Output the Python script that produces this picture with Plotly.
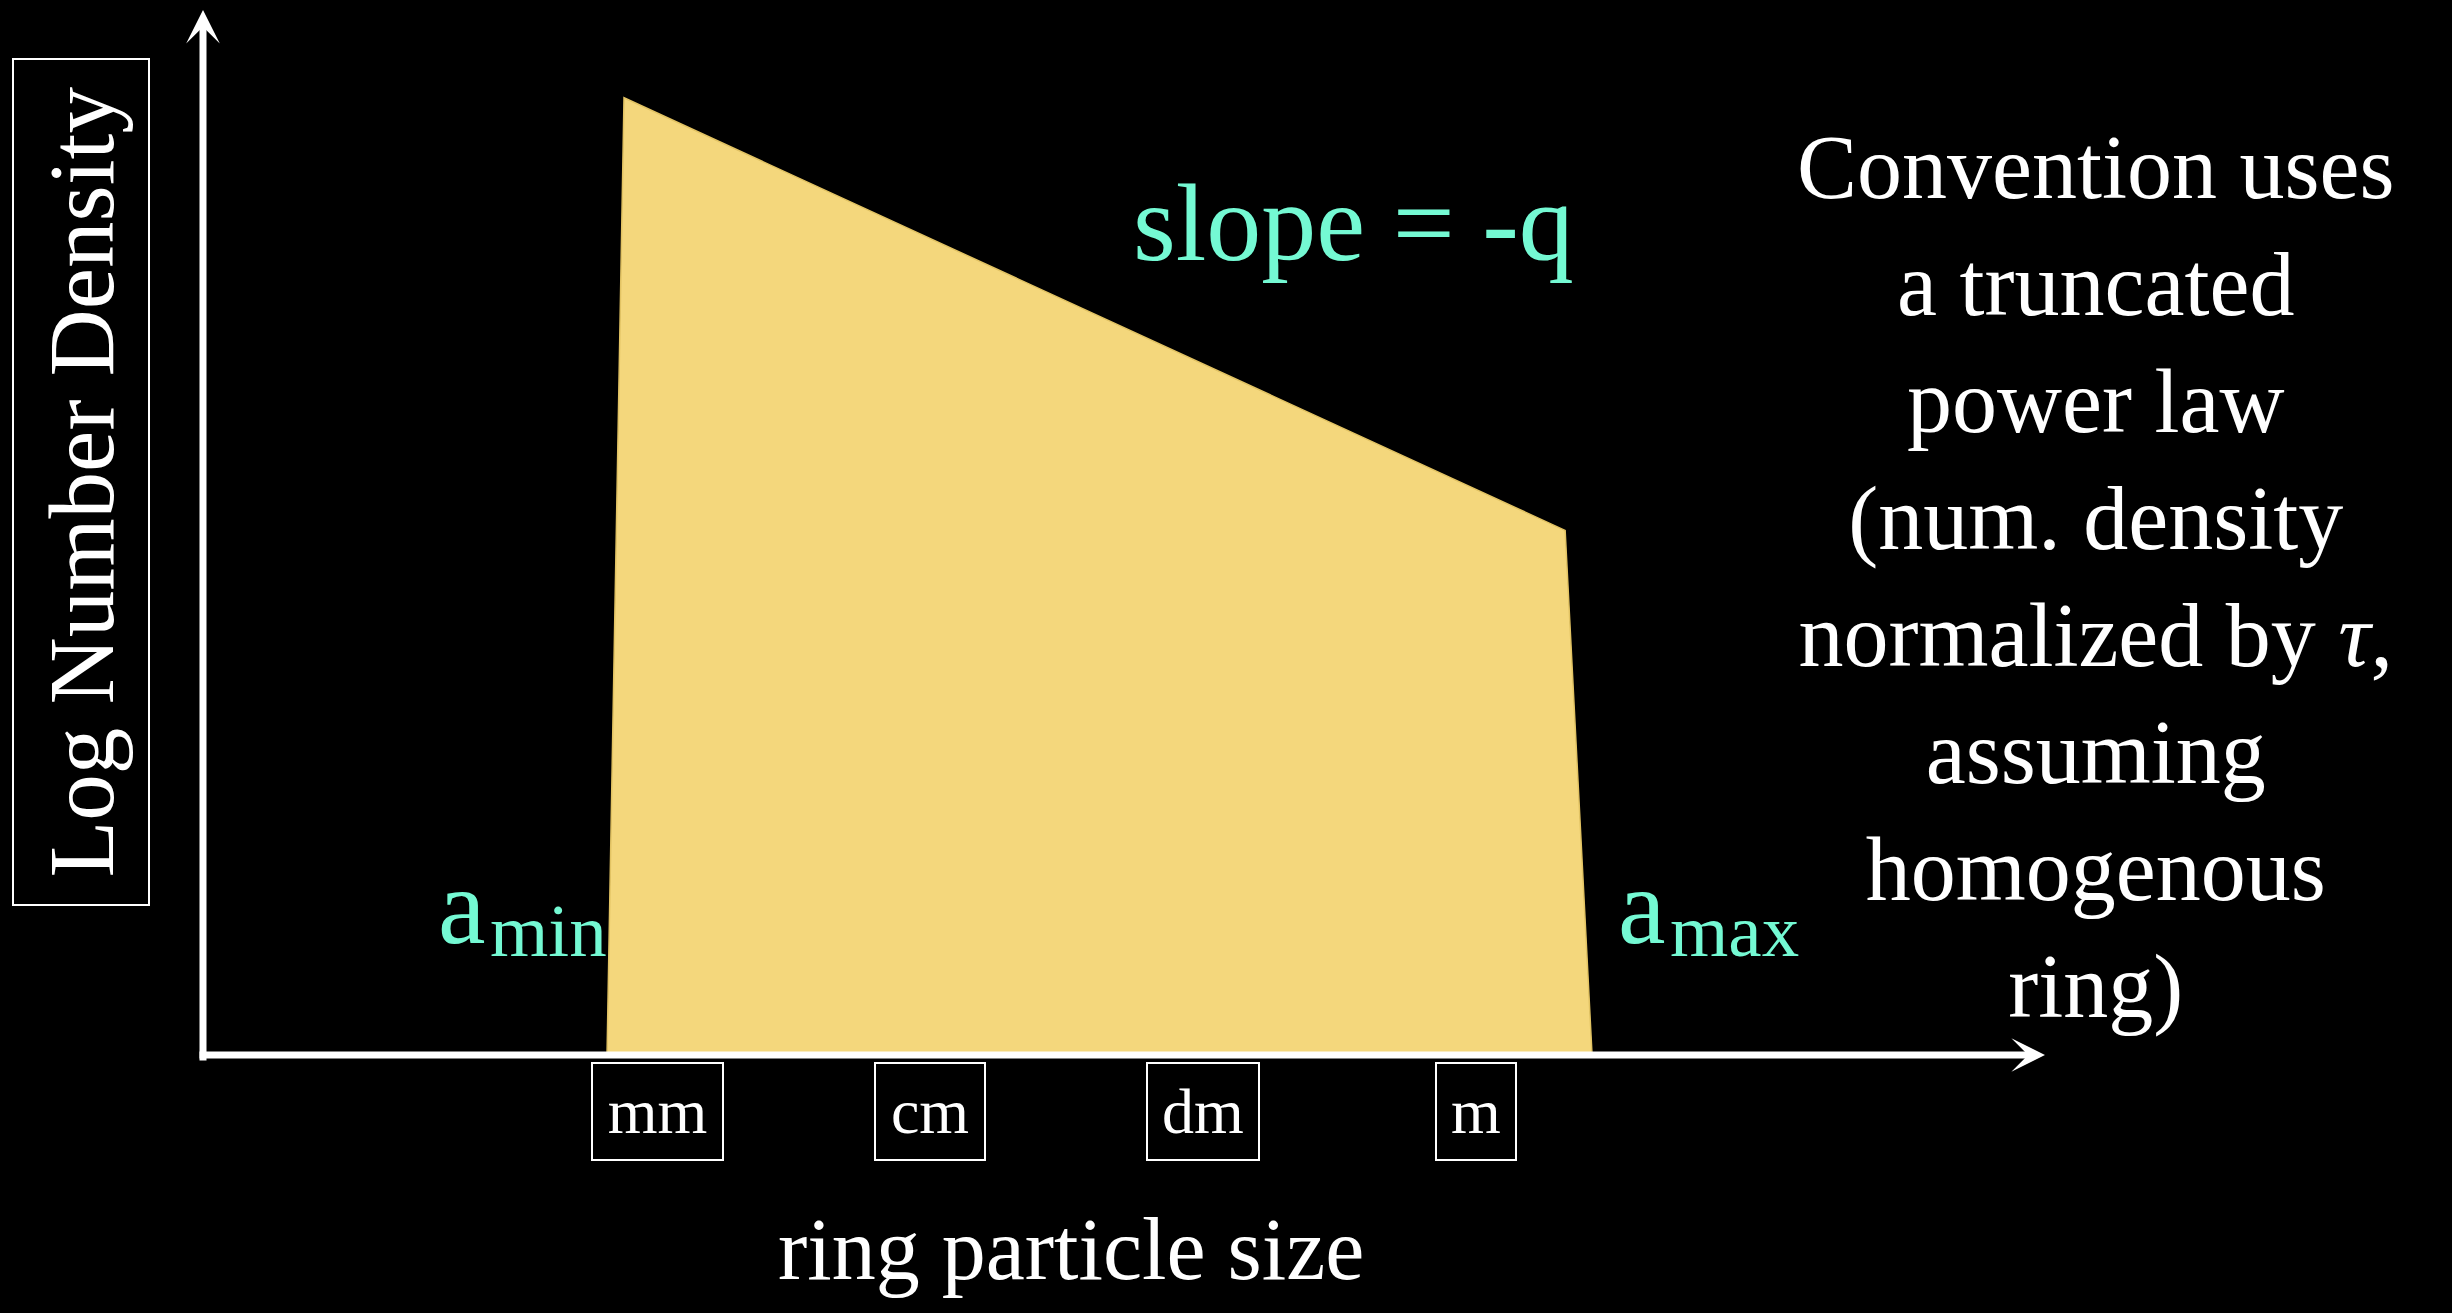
import math
import plotly.graph_objects as go

# ---------------- data ----------------
size_labels = ["mm", "cm", "dm", "m"]
size_values_m = [1e-3, 1e-2, 1e-1, 1.0]

# truncated power-law outline (particle size in metres, log number density in arbitrary units)
poly_size_m = [6.56e-4, 7.57e-4, 2.12, 2.66, 6.56e-4]
poly_log_density = [0.0, 9.16, 5.02, 0.0, 0.0]

right_text_lines = [
    "Convention uses",
    "a truncated",
    "power law",
    "(num. density",
    "normalized by <i>τ</i>,",
    "assuming",
    "homogenous",
    "ring)",
]

# ---------------- styling ----------------
W, H = 2452, 1313
ML, MR, MT, MB = 203, 407, 10, 258
PW = W - ML - MR
PH = H - MT - MB
SERIF = "Liberation Serif, Times New Roman, serif"
AQUA = "#74F9D3"
YELLOW = "#F4D77C"
WHITE = "#FFFFFF"


def px_to_paper_x(p):
    return (p - ML) / PW


def px_to_paper_y(p):
    return (H - MB - p) / PH


fig = go.Figure()

fig.add_trace(
    go.Scatter(
        x=poly_size_m,
        y=poly_log_density,
        mode="lines",
        fill="toself",
        fillcolor=YELLOW,
        line=dict(color="#E2C363", width=1.5),
        hoverinfo="skip",
        showlegend=False,
    )
)

annotations = []

# axis arrows
annotations.append(dict(
    x=0, y=1, xref="paper", yref="paper", ax=0, ay=1052,
    text="", showarrow=True, arrowhead=3, arrowsize=0.8, arrowwidth=7,
    arrowcolor=WHITE, standoff=0,
))
annotations.append(dict(
    x=1, y=0, xref="paper", yref="paper", ax=-1847, ay=0,
    text="", showarrow=True, arrowhead=3, arrowsize=0.8, arrowwidth=7,
    arrowcolor=WHITE, standoff=0,
))

# boxed tick labels (annotation x on a log axis is given as log10)
box_widths = {"mm": 129, "cm": 108, "dm": 110, "m": 78}
for lab, val in zip(size_labels, size_values_m):
    annotations.append(dict(
        x=math.log10(val), xref="x", y=px_to_paper_y(1111.5), yref="paper",
        text=lab, showarrow=False, xanchor="center", yanchor="middle",
        font=dict(family=SERIF, size=64, color=WHITE),
        bordercolor=WHITE, borderwidth=2, borderpad=0,
        width=box_widths[lab], height=95, align="center", valign="middle",
    ))

# y-axis title (boxed, rotated)
annotations.append(dict(
    x=px_to_paper_x(81), y=px_to_paper_y(482), xref="paper", yref="paper",
    text="Log Number Density", showarrow=False, textangle=-90,
    xanchor="center", yanchor="middle",
    font=dict(family=SERIF, size=93, color=WHITE),
    bordercolor=WHITE, borderwidth=2, borderpad=0,
    width=844, height=134, align="center", valign="middle",
))

# x-axis title
annotations.append(dict(
    x=px_to_paper_x(1071), y=px_to_paper_y(1249), xref="paper", yref="paper",
    text="ring particle size", showarrow=False,
    xanchor="center", yanchor="middle",
    font=dict(family=SERIF, size=88, color=WHITE),
))

# slope label
annotations.append(dict(
    x=px_to_paper_x(1353), y=px_to_paper_y(223), xref="paper", yref="paper",
    text="slope = -q", showarrow=False,
    xanchor="center", yanchor="middle",
    font=dict(family=SERIF, size=110, color=AQUA),
))

# a_min / a_max labels: main letter + smaller subscript placed beside it
for join_px, sub in [(488, "min"), (1668, "max")]:
    annotations.append(dict(
        x=px_to_paper_x(join_px), y=px_to_paper_y(907), xref="paper", yref="paper",
        text="a", showarrow=False, xanchor="right", yanchor="middle",
        font=dict(family=SERIF, size=107, color=AQUA),
    ))
    annotations.append(dict(
        x=px_to_paper_x(join_px), y=px_to_paper_y(930), xref="paper", yref="paper",
        text=sub, showarrow=False, xanchor="left", yanchor="middle",
        font=dict(family=SERIF, size=75, color=AQUA),
    ))

# right-hand explanatory text
annotations.append(dict(
    x=px_to_paper_x(2095), y=px_to_paper_y(577), xref="paper", yref="paper",
    text="<br>".join(right_text_lines), showarrow=False,
    xanchor="center", yanchor="middle", align="center",
    font=dict(family=SERIF, size=90, color=WHITE),
))

fig.update_layout(
    width=W, height=H, autosize=False,
    margin=dict(l=ML, r=MR, t=MT, b=MB, pad=0),
    paper_bgcolor="black", plot_bgcolor="black",
    xaxis=dict(type="log", range=[-4.663, 2.084], showgrid=False, zeroline=False,
               showticklabels=False, showline=False, ticks=""),
    yaxis=dict(range=[0, 10], showgrid=False, zeroline=False,
               showticklabels=False, showline=False, ticks=""),
    annotations=annotations,
    showlegend=False,
)

fig.write_html(
    "out.html",
    post_script="document.body.style.margin='0';document.body.style.overflow='hidden';",
    config={"displayModeBar": False},
)
